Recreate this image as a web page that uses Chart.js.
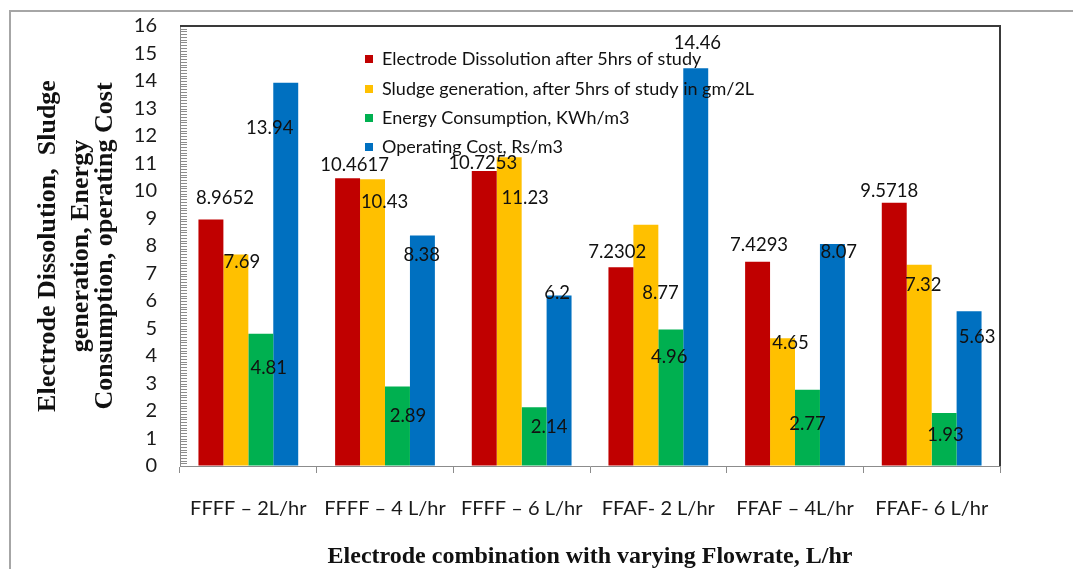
<!DOCTYPE html>
<html>
<head>
<meta charset="utf-8">
<title>Electrode combination with varying Flowrate</title>
<script src="https://cdn.jsdelivr.net/npm/chart.js@4.4.1/dist/chart.umd.min.js"></script>
<style>
  html, body { margin: 0; padding: 0; background: #fff; }
  #wrap { position: relative; width: 1073px; height: 569px; overflow: hidden; }
  #frame { position: absolute; left: 9px; top: 10px; width: 1100px; height: 600px;
           border-left: 2px solid #a6a6a6; border-top: 2px solid #a6a6a6; box-sizing: border-box; }
  canvas { position: absolute; left: 0; top: 0; }
</style>
</head>
<body>
<div id="wrap">
  <div id="frame"></div>
  <canvas id="chart" width="1073" height="569"></canvas>
</div>
<script>
// Electrode combinations and flow rates
const categories = ['FFFF \u2013 2L/hr', 'FFFF \u2013 4 L/hr', 'FFFF \u2013 6 L/hr', 'FFAF- 2 L/hr', 'FFAF \u2013 4L/hr', 'FFAF- 6 L/hr'];

// Series names
const seriesNames = [
  'Electrode Dissolution after 5hrs of study',
  'Sludge generation, after 5hrs of study in gm/2L',
  'Energy Consumption, KWh/m3',
  'Operating Cost, Rs/m3'
];

// Measured values per series
const electrodeDissolution = [8.9652, 10.4617, 10.7253, 7.2302, 7.4293, 9.5718];
const sludgeGeneration     = [7.69, 10.43, 11.23, 8.77, 4.65, 7.32];
const energyConsumption    = [4.81, 2.89, 2.14, 4.96, 2.77, 1.93];
const operatingCost        = [13.94, 8.38, 6.2, 14.46, 8.07, 5.63];

// Y axis tick values
const yTicks = [0, 1, 2, 3, 4, 5, 6, 7, 8, 9, 10, 11, 12, 13, 14, 15, 16];

// Axis titles
const xTitle = 'Electrode combination with varying Flowrate, L/hr';
const yTitleLines = ['Electrode Dissolution,  Sludge', 'generation, Energy', 'Consumption, operating Cost'];

const seriesColors = ['#C00000', '#FFC000', '#00B050', '#0070C0'];

// Hand-placed value label offsets (px) from the top-centre of each bar
const labelShiftX = [
  [14, 7, -1.5, -3.7, 1.5, -5],
  [6, 12, 16, 14.6, 8, 4],
  [8, 10.5, 15, -1.6, 0, 1.3],
  [-16, -0.7, -2, 1.7, 6.4, 8]
];
const labelShiftY = [
  [-21, -13, -8.4, -15.5, -16.7, -12],
  [8, 22.5, 41, 68.5, 5, 20],
  [34, 29.5, 19.5, 27, 34, 22],
  [45, 19.5, -2, -25, 7.6, 25.5]
];

const textFont = 'Lato, "Open Sans", sans-serif';
const serifFont = '"Liberation Serif", "DejaVu Serif", serif';

Chart.defaults.font.family = textFont;
Chart.defaults.color = '#1a1a1a';

// Minor tick comb on the inside of the value axis
const minorTicks = {
  id: 'minorTicks',
  afterDraw(chart) {
    const y = chart.scales.y;
    const ctx = chart.ctx;
    const left = chart.chartArea.left;
    ctx.save();
    ctx.strokeStyle = '#8c8c8c';
    ctx.lineWidth = 1;
    ctx.beginPath();
    for (let k = 0; k <= 160; k++) {
      const py = Math.round(y.getPixelForValue(k / 10)) + 0.5;
      ctx.moveTo(left, py);
      ctx.lineTo(left + 7, py);
    }
    ctx.stroke();
    ctx.restore();
  }
};

// Dark top and right edges of the plot box
const plotBox = {
  id: 'plotBox',
  afterDraw(chart) {
    const {left, right, top, bottom} = chart.chartArea;
    const ctx = chart.ctx;
    ctx.save();
    ctx.strokeStyle = '#3a3a3a';
    ctx.lineWidth = 2;
    ctx.beginPath();
    ctx.moveTo(left, top);
    ctx.lineTo(right, top);
    ctx.lineTo(right, bottom);
    ctx.stroke();
    ctx.restore();
  }
};

// Three-line rotated value-axis title
const yAxisTitle = {
  id: 'yAxisTitle',
  afterDraw(chart) {
    const {top, bottom} = chart.chartArea;
    const ctx = chart.ctx;
    const baselines = [55, 88, 112];
    ctx.save();
    ctx.font = 'bold 26px ' + serifFont;
    ctx.fillStyle = '#111';
    ctx.textAlign = 'center';
    ctx.textBaseline = 'alphabetic';
    yTitleLines.forEach((line, i) => {
      ctx.save();
      ctx.translate(baselines[i], (top + bottom) / 2);
      ctx.rotate(-Math.PI / 2);
      ctx.fillText(line, 0, 0);
      ctx.restore();
    });
    ctx.restore();
  }
};

// Value labels and the in-plot legend
const valueLabels = {
  id: 'valueLabels',
  afterDatasetsDraw(chart) {
    const ctx = chart.ctx;
    ctx.save();
    ctx.font = '18.5px ' + textFont;
    ctx.fillStyle = '#111';
    ctx.textAlign = 'center';
    ctx.textBaseline = 'middle';
    chart.data.datasets.forEach((ds, i) => {
      const meta = chart.getDatasetMeta(i);
      meta.data.forEach((bar, j) => {
        ctx.fillText(String(ds.data[j]), bar.x + labelShiftX[i][j], bar.y + labelShiftY[i][j]);
      });
    });

    // legend
    const area = chart.chartArea;
    const lx = area.left + 185;
    const rowY = [59, 89, 118, 147];
    ctx.font = '18px ' + textFont;
    ctx.textAlign = 'left';
    chart.data.datasets.forEach((ds, i) => {
      ctx.fillStyle = ds.backgroundColor;
      ctx.fillRect(lx, rowY[i] - 4, 8, 8);
      ctx.fillStyle = '#111';
      ctx.fillText(ds.label, lx + 17, rowY[i]);
    });
    ctx.restore();
  }
};

const seriesValues = [electrodeDissolution, sludgeGeneration, energyConsumption, operatingCost];

new Chart(document.getElementById('chart'), {
  type: 'bar',
  data: {
    labels: categories,
    datasets: seriesNames.map((name, i) => ({
      label: name,
      data: seriesValues[i],
      backgroundColor: seriesColors[i],
      borderWidth: 0,
      categoryPercentage: 0.73,
      barPercentage: 1.0
    }))
  },
  options: {
    responsive: false,
    animation: false,
    devicePixelRatio: 1,
    layout: { padding: { left: 10, right: 73, top: 26, bottom: 0 } },
    plugins: {
      legend: { display: false },
      tooltip: { enabled: false }
    },
    scales: {
      x: {
        offset: true,
        grid: { display: true, drawOnChartArea: false, drawTicks: true, tickLength: 7, offset: true, color: '#8c8c8c' },
        border: { display: true, color: '#8c8c8c', width: 1 },
        ticks: { padding: 24, font: { size: 20 }, color: '#1a1a1a', maxRotation: 0, autoSkip: false },
        title: {
          display: true,
          text: xTitle,
          font: { family: serifFont, size: 24, weight: 'bold', lineHeight: 1.0 },
          color: '#111',
          padding: { top: 0, bottom: 0 }
        },
        afterFit(scale) { scale.height = 103; }
      },
      y: {
        min: 0,
        max: 16,
        afterBuildTicks(scale) { scale.ticks = yTicks.map(v => ({ value: v })); },
        grid: { display: true, drawOnChartArea: false, drawTicks: true, tickLength: 20, tickColor: 'rgba(0,0,0,0)' },
        border: { display: true, color: '#8c8c8c', width: 1 },
        ticks: { padding: 3, font: { size: 20 }, color: '#1a1a1a', autoSkip: false },
        afterFit(scale) { scale.width = 170; }
      }
    }
  },
  plugins: [minorTicks, plotBox, yAxisTitle, valueLabels]
});
</script>
</body>
</html>
